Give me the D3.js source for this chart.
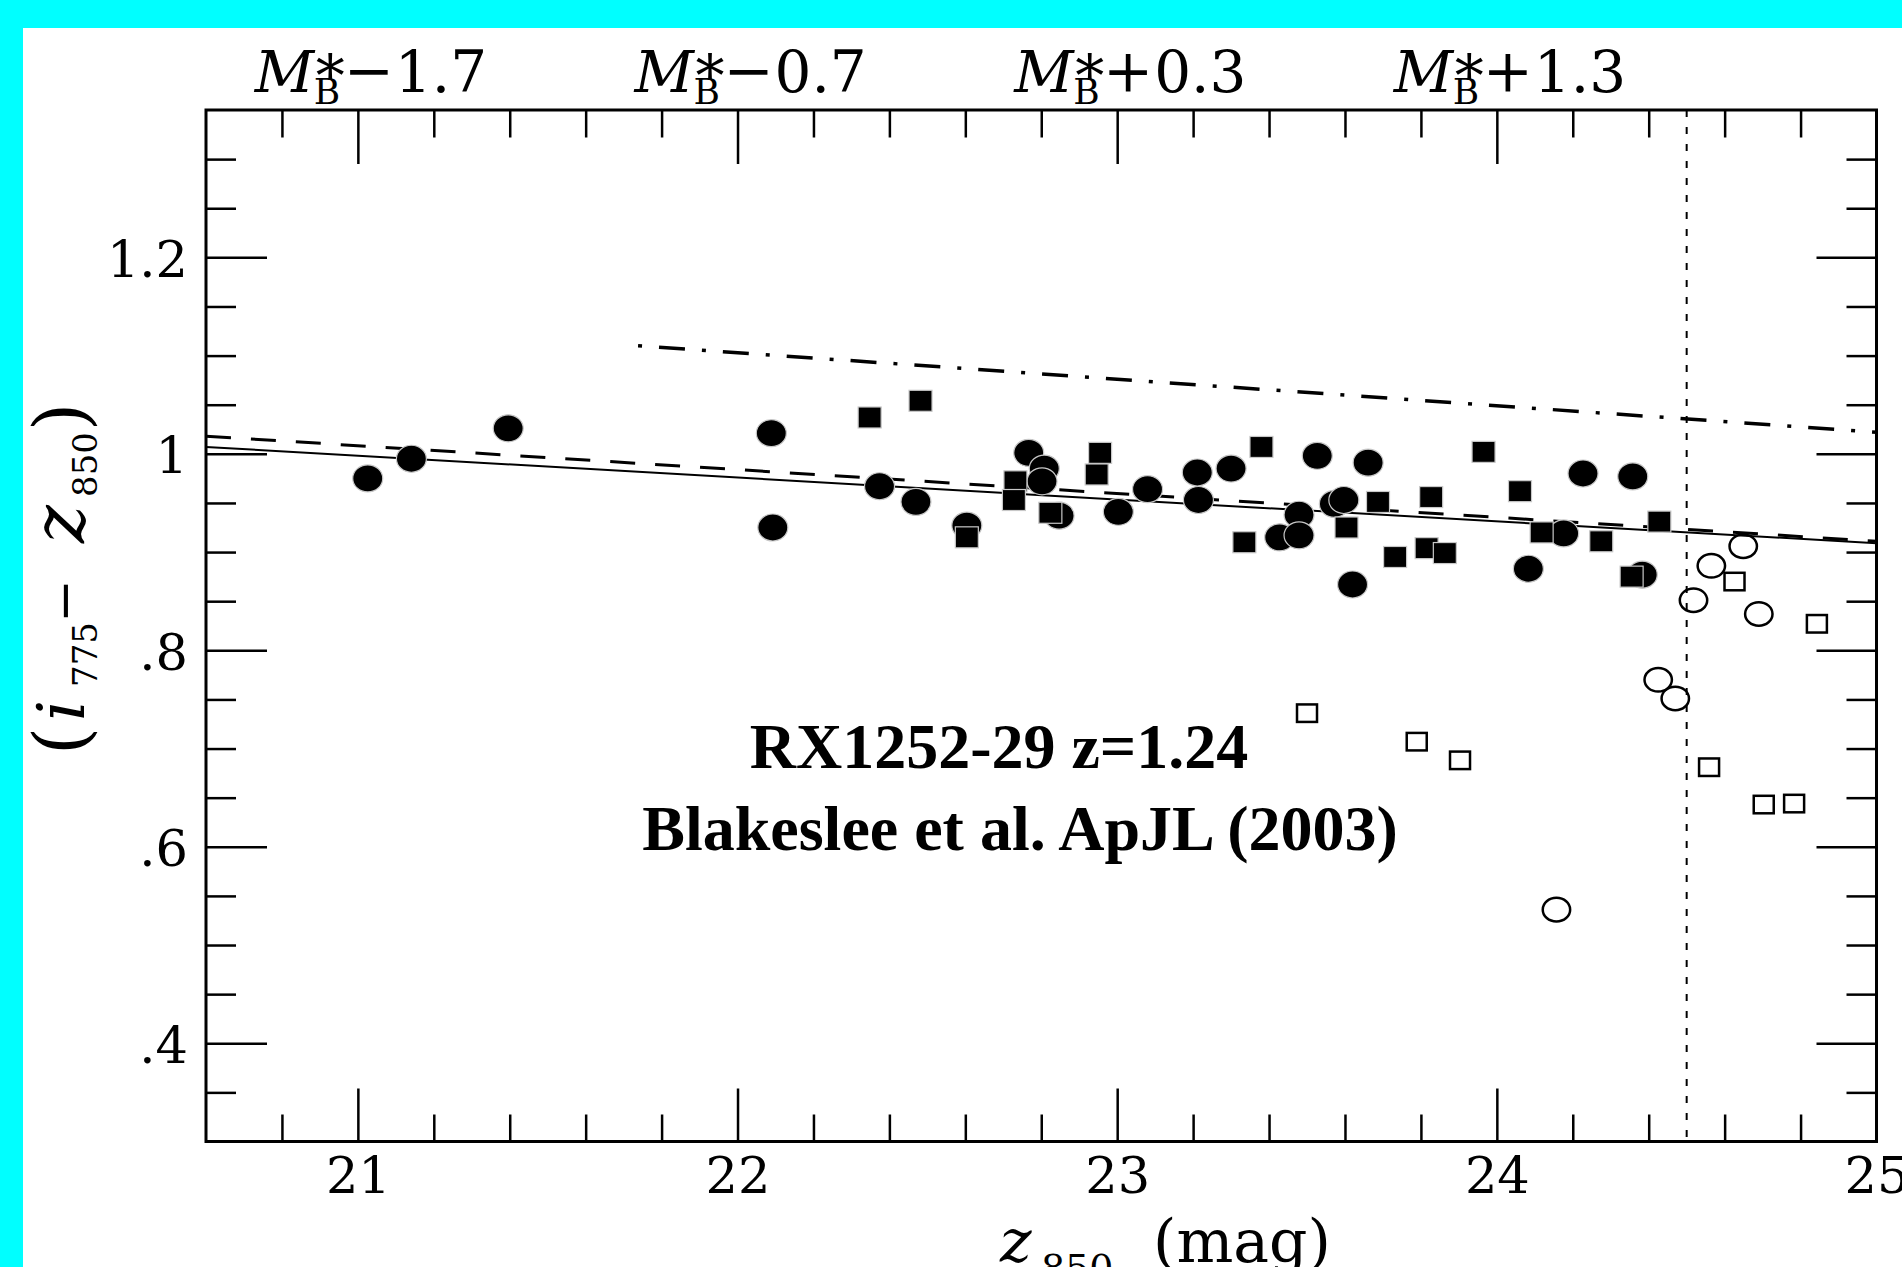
<!DOCTYPE html>
<html><head><meta charset="utf-8">
<script src="https://cdn.jsdelivr.net/npm/d3@7"></script>
<style>html,body{margin:0;padding:0;background:#00ffff;overflow:hidden}</style>
</head><body>
<svg id="chart" width="1902" height="1267"></svg>
<script>
// ---------------- data (z850 mag, i775 - z850 colour) ----------------
const filledCircles = [
  [21.026,0.975],[21.141,0.995],[21.396,1.026],[22.089,1.021],[22.093,0.925],
  [22.374,0.967],[22.470,0.951],[22.604,0.927],[22.767,1.001],[22.808,0.985],
  [22.802,0.972],[22.847,0.937],[23.003,0.941],[23.080,0.964],[23.211,0.981],
  [23.214,0.953],[23.300,0.985],[23.428,0.915],[23.479,0.938],[23.527,0.998],
  [23.661,0.991],[23.479,0.917],[23.572,0.949],[23.597,0.953],[23.620,0.867],
  [24.083,0.883],[24.176,0.919],[24.227,0.980],[24.358,0.977],[24.383,0.877]
];
const filledSquares = [
  [22.348,1.037],[22.482,1.054],[22.604,0.915],[22.732,0.972],[22.728,0.953],
  [22.824,0.940],[22.955,1.001],[22.946,0.979],[23.335,0.910],[23.380,1.007],
  [23.604,0.925],[23.687,0.951],[23.732,0.895],[23.815,0.904],[23.863,0.899],
  [23.827,0.956],[23.965,1.002],[24.061,0.962],[24.118,0.920],[24.275,0.911],
  [24.428,0.931],[24.355,0.875]
];
const openCircles = [
  [24.649,0.906],[24.565,0.886],[24.518,0.851],[24.690,0.837],
  [24.425,0.770],[24.470,0.751],[24.157,0.536]
];
const openSquares = [
  [24.626,0.870],[24.843,0.827],[23.500,0.736],[23.789,0.707],
  [23.903,0.688],[24.559,0.681],[24.703,0.643],[24.783,0.644]
];
const solidFit   = [[20.6,1.007],[25.0,0.909]];
const dashedFit  = [[20.6,1.018],[25.0,0.911]];
const dashDotFit = [[21.738,1.110],[25.0,1.022]];
const magLimit = 24.5;

const xMajorTicks = [21,22,23,24,25];
const yMajorTicks = [0.4,0.6,0.8,1.0,1.2];
const yTickLabels = [".4",".6",".8","1","1.2"];
const topLabelMags = [21,22,23,24];
const topLabelSigns = ["\u2212","\u2212","+","+"];
const topLabelNums = ["1.7","0.7","0.3","1.3"];
const annotLines = ["RX1252-29 z=1.24","Blakeslee et al. ApJL (2003)"];

// ---------------- layout ----------------
const W = 1902, H = 1267;
const L = 206, R = 1876.5, T = 110, B = 1141.5;
const svg = d3.select('#chart');
svg.append('rect').attr('width',W).attr('height',H).attr('fill','#00ffff');
svg.append('rect').attr('x',23).attr('y',28).attr('width',W-23).attr('height',H-28).attr('fill','#fff');

const x = d3.scaleLinear().domain([20.6,25]).range([L,R]);
const y = d3.scaleLinear().domain([0.3,1.35]).range([B,T]);

const xMinor = d3.range(104,125).filter(v=>v%5!==0).map(v=>v/5);
const xMajorIn = xMajorTicks.filter(v=>v<25);
const yMinor = d3.range(7,27).filter(v=>v%4!==0).map(v=>v/20);

function styleAxis(g){
  g.select('.domain').remove();
  g.selectAll('line').attr('stroke','#000').attr('stroke-width',2.5);
}
// bottom
svg.append('g').attr('transform',`translate(0,${B})`)
  .call(d3.axisBottom(x).tickValues(xMinor).tickSize(-27).tickSizeOuter(0).tickFormat('')).call(styleAxis);
const gb = svg.append('g').attr('transform',`translate(0,${B})`)
  .call(d3.axisBottom(x).tickValues(xMajorTicks).tickSize(-53).tickSizeOuter(0).tickFormat(d3.format('d'))).call(styleAxis);
gb.selectAll('.tick').filter(d=>d===25).select('line').remove();
gb.selectAll('text').attr('y',51.5).attr('dy',null)
  .attr('font-family','DejaVu Serif').attr('font-size',51).attr('fill','#000');
// top
svg.append('g').attr('transform',`translate(0,${T})`)
  .call(d3.axisTop(x).tickValues(xMinor).tickSize(-27.5).tickSizeOuter(0).tickFormat('')).call(styleAxis);
svg.append('g').attr('transform',`translate(0,${T})`)
  .call(d3.axisTop(x).tickValues(xMajorIn).tickSize(-54).tickSizeOuter(0).tickFormat('')).call(styleAxis);
// left
svg.append('g').attr('transform',`translate(${L},0)`)
  .call(d3.axisLeft(y).tickValues(yMinor).tickSize(-30).tickSizeOuter(0).tickFormat('')).call(styleAxis);
const gl = svg.append('g').attr('transform',`translate(${L},0)`)
  .call(d3.axisLeft(y).tickValues(yMajorTicks).tickSize(-61).tickSizeOuter(0)
    .tickFormat((d,i)=>yTickLabels[i])).call(styleAxis);
gl.selectAll('text').attr('x',-18).attr('dy','0.37em')
  .attr('font-family','DejaVu Serif').attr('font-size',51).attr('fill','#000');
// right
svg.append('g').attr('transform',`translate(${R},0)`)
  .call(d3.axisRight(y).tickValues(yMinor).tickSize(-30).tickSizeOuter(0).tickFormat('')).call(styleAxis);
svg.append('g').attr('transform',`translate(${R},0)`)
  .call(d3.axisRight(y).tickValues(yMajorTicks).tickSize(-60).tickSizeOuter(0).tickFormat('')).call(styleAxis);

// frame
svg.append('rect').attr('x',L).attr('y',T).attr('width',R-L).attr('height',B-T)
  .attr('fill','none').attr('stroke','#000').attr('stroke-width',3);

// top labels  M*_B ± n
topLabelMags.forEach((m,i)=>{
  const x0 = x(m) + 12 - 115;
  const g = svg.append('g').attr('font-family','DejaVu Serif').attr('fill','#000');
  g.append('text').attr('x',x0).attr('y',92).attr('font-size',58).attr('font-style','italic').text('M');
  g.append('text').attr('x',x0+61).attr('y',96).attr('font-size',58).text('*');
  g.append('text').attr('x',x0+59).attr('y',104).attr('font-size',36).text('B');
  const sgn = topLabelSigns[i];
  g.append('text').attr('x',x0+114).attr('y',sgn==='+'?91:91)
    .attr('font-size',sgn==='+'?60:60).attr('text-anchor','middle').text(sgn);
  g.append('text').attr('x',x0+140).attr('y',92).attr('font-size',58).text(topLabelNums[i]);
});

// lines
const line = d3.line().x(d=>x(d[0])).y(d=>y(d[1]));
svg.append('path').datum(solidFit).attr('d',line).attr('fill','none').attr('stroke','#000').attr('stroke-width',2);
svg.append('path').datum(dashedFit).attr('d',line).attr('fill','none').attr('stroke','#000')
  .attr('stroke-width',3).attr('stroke-dasharray','25,20');
svg.append('path').datum(dashDotFit).attr('d',line).attr('fill','none').attr('stroke','#000')
  .attr('stroke-width',3.5).attr('stroke-dasharray','4,17,26,17');
svg.append('line').attr('x1',x(magLimit)).attr('x2',x(magLimit)).attr('y1',T).attr('y2',B)
  .attr('stroke','#000').attr('stroke-width',2).attr('stroke-dasharray','7,10');

// markers
svg.append('g').selectAll('ellipse').data(filledCircles).join('ellipse')
  .attr('cx',d=>x(d[0])).attr('cy',d=>y(d[1])).attr('rx',15).attr('ry',13.5)
  .attr('fill','#000').attr('stroke','#c8c8c8').attr('stroke-width',1.2);
svg.append('g').selectAll('rect').data(filledSquares).join('rect')
  .attr('x',d=>x(d[0])-11.5).attr('y',d=>y(d[1])-10.5).attr('width',23).attr('height',21)
  .attr('fill','#000').attr('stroke','#c8c8c8').attr('stroke-width',1.2);
svg.append('g').selectAll('ellipse').data(openCircles).join('ellipse')
  .attr('cx',d=>x(d[0])).attr('cy',d=>y(d[1])).attr('rx',13.7).attr('ry',11.8)
  .attr('fill','none').attr('stroke','#000').attr('stroke-width',2.5);
svg.append('g').selectAll('rect').data(openSquares).join('rect')
  .attr('x',d=>x(d[0])-10).attr('y',d=>y(d[1])-8.75).attr('width',20).attr('height',17.5)
  .attr('fill','none').attr('stroke','#000').attr('stroke-width',2.5);

// annotation
svg.append('text').attr('x',999).attr('y',768).attr('text-anchor','middle')
  .attr('font-family','Liberation Serif').attr('font-weight','bold').attr('font-size',64).text(annotLines[0]);
svg.append('text').attr('x',1020).attr('y',850).attr('text-anchor','middle')
  .attr('font-family','Liberation Serif').attr('font-weight','bold').attr('font-size',64).text(annotLines[1]);

// x title
const xt = svg.append('g').attr('font-family','DejaVu Serif').attr('fill','#000');
xt.append('text').attr('x',1000).attr('y',1262).attr('font-size',60).attr('font-style','italic').text('z');
xt.append('text').attr('x',1041).attr('y',1281).attr('font-size',38).text('850');
xt.append('text').attr('x',1153).attr('y',1262).attr('font-size',60).text('(mag)');

// y title (rotated)
const yt = svg.append('g').attr('transform','translate(84,753) rotate(-90)')
  .attr('font-family','DejaVu Serif').attr('fill','#000');
yt.append('text').attr('x',-2).attr('y',2).attr('font-size',72).text('(');
yt.append('text').attr('x',32).attr('y',0).attr('font-size',66).attr('font-style','italic').text('i');
yt.append('text').attr('x',66).attr('y',13).attr('font-size',34).text('775');
yt.append('text').attr('x',152).attr('y',-2).attr('font-size',52).attr('text-anchor','middle').text('\u2212');
yt.append('text').attr('x',210).attr('y',0).attr('font-size',72).attr('font-style','italic').text('z');
yt.append('text').attr('x',256).attr('y',13).attr('font-size',34).text('850');
yt.append('text').attr('x',322).attr('y',2).attr('font-size',72).text(')');
</script>
</body></html>
